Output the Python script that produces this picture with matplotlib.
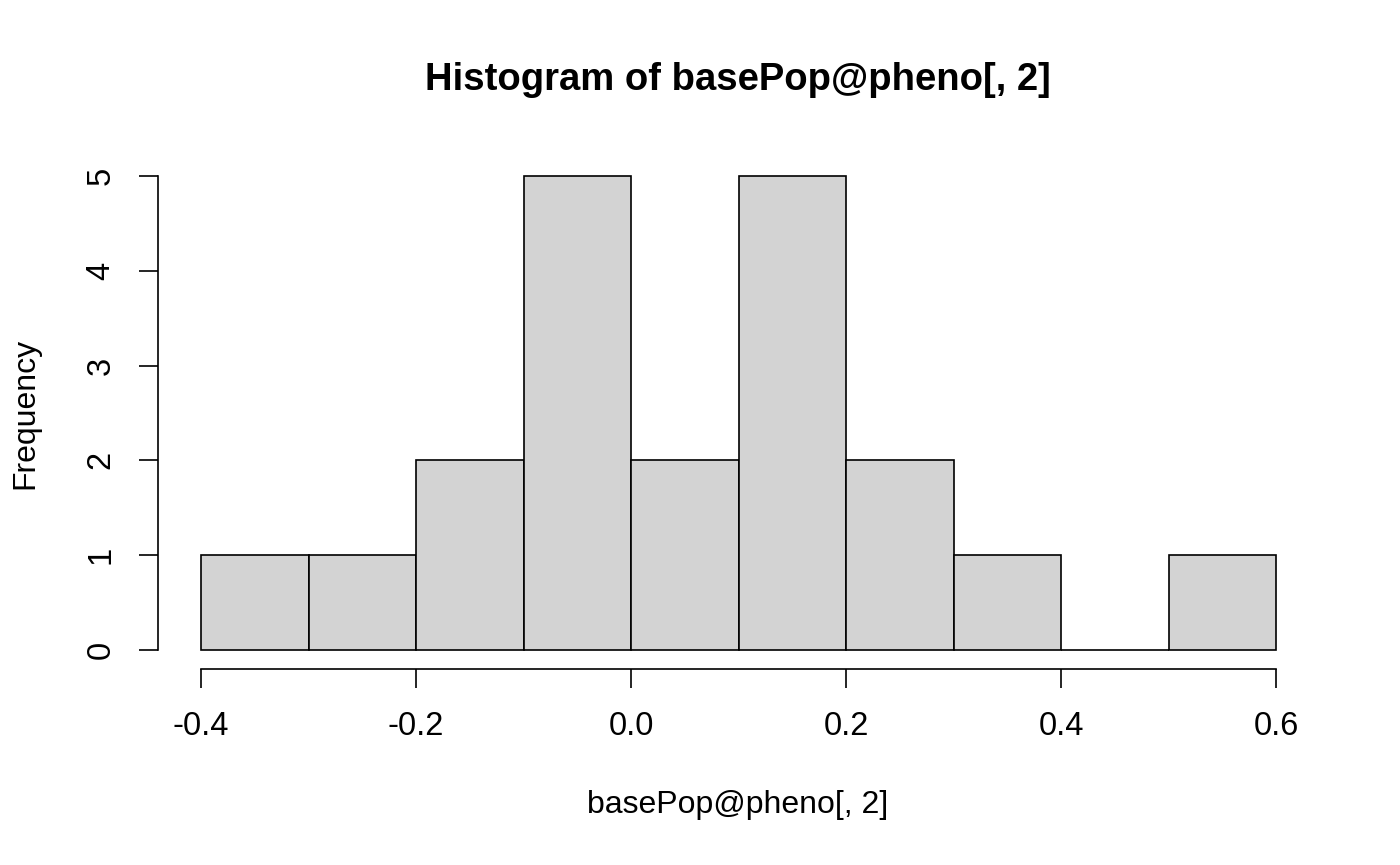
import matplotlib.pyplot as plt
import numpy as np

plt.rcParams['font.family'] = ['Liberation Sans', 'DejaVu Sans']

breaks = [-0.4, -0.3, -0.2, -0.1, 0.0, 0.1, 0.2, 0.3, 0.4, 0.5, 0.6]
counts = [1, 1, 2, 5, 2, 5, 2, 1, 0, 1]
x_ticks = [-0.4, -0.2, 0.0, 0.2, 0.4, 0.6]
x_tick_labels = ['-0.4', '-0.2', '0.0', '0.2', '0.4', '0.6']
y_ticks = [0, 1, 2, 3, 4, 5]

fig = plt.figure(figsize=(14, 8.65), dpi=100)
ax = fig.add_axes([158 / 1400, 196 / 865, (1319 - 158) / 1400, (669 - 157) / 865])

left = np.array(breaks[:-1])
widths = np.diff(breaks)
ax.bar(left, counts, width=widths, align='edge', color='#D3D3D3', edgecolor='black', linewidth=1.2)

ax.set_xlim(-0.44, 0.64)
ax.set_ylim(-0.2, 5.2)

for s in ['top', 'right']:
    ax.spines[s].set_visible(False)
ax.spines['bottom'].set_bounds(-0.4, 0.6)
ax.spines['left'].set_bounds(0, 5)
ax.spines['bottom'].set_linewidth(1.2)
ax.spines['left'].set_linewidth(1.2)

ax.set_xticks(x_ticks)
ax.set_xticklabels(x_tick_labels)
ax.set_yticks(y_ticks)
ax.set_yticklabels([str(v) for v in y_ticks], rotation=90, va='center')
ax.tick_params(axis='both', direction='out', length=14, width=1.2, labelsize=23.5)
ax.tick_params(axis='x', pad=16)
ax.tick_params(axis='y', pad=16)

fig.text(738 / 1400, 1 - 80 / 865, 'Histogram of basePop@pheno[, 2]', ha='center', va='center',
         fontsize=27.5, fontweight='bold')
fig.text(738 / 1400, 1 - 805 / 865, 'basePop@pheno[, 2]', ha='center', va='center', fontsize=23)
fig.text(25 / 1400, 1 - 413 / 865, 'Frequency', ha='center', va='center', fontsize=23, rotation=90)

fig.savefig('out.png', dpi=100)
